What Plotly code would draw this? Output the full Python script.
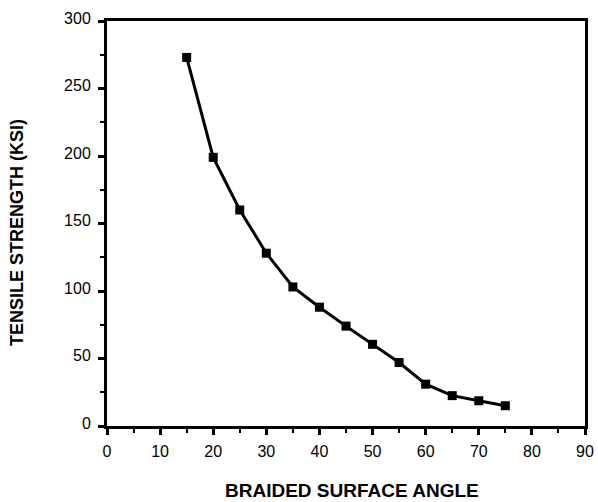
import plotly.graph_objects as go

angle = [15, 20, 25, 30, 35, 40, 45, 50, 55, 60, 65, 70, 75]
strength = [273, 199, 160, 128, 103, 88, 74, 60.5, 47, 31, 22.5, 18.7, 15]

x_ticks = [0, 10, 20, 30, 40, 50, 60, 70, 80, 90]
y_ticks = [0, 50, 100, 150, 200, 250, 300]

x_title = "BRAIDED SURFACE ANGLE"
y_title = "TENSILE STRENGTH (KSI)"

fig = go.Figure()
fig.add_trace(go.Scatter(
    x=angle, y=strength, mode="lines+markers",
    line=dict(color="black", width=3),
    marker=dict(symbol="square", size=9, color="black"),
    showlegend=False, cliponaxis=False,
))

FONT = "Liberation Sans, Arial, Helvetica, sans-serif"
tickfont = dict(family=FONT, size=16, color="black")

fig.update_xaxes(
    range=[0, 90], tickvals=x_ticks, ticktext=[str(v) for v in x_ticks],
    showline=True, linecolor="black", linewidth=3, mirror=True,
    ticks="outside", ticklen=6, tickwidth=3, tickcolor="black",
    minor=dict(ticks="outside", dtick=5, tick0=0, ticklen=4, tickwidth=2, tickcolor="black"),
    showgrid=False, zeroline=False, tickfont=tickfont,
    ticklabelstandoff=3, automargin=False,
)
fig.update_yaxes(
    range=[0, 300], tickvals=y_ticks, ticktext=[str(v) for v in y_ticks],
    showline=True, linecolor="black", linewidth=3, mirror=True,
    ticks="outside", ticklen=6, tickwidth=3, tickcolor="black",
    minor=dict(ticks="outside", dtick=25, tick0=0, ticklen=4, tickwidth=2, tickcolor="black"),
    showgrid=False, zeroline=False, tickfont=tickfont,
    ticklabelstandoff=4, ticklabelshift=-3, automargin=False,
)

plot_l, plot_r, plot_t, plot_b = 107, 585, 21, 426
fig.update_layout(
    width=598, height=502,
    margin=dict(l=plot_l, r=598 - plot_r, t=plot_t, b=502 - plot_b, autoexpand=False),
    paper_bgcolor="white", plot_bgcolor="white",
    annotations=[
        dict(text=x_title, xref="paper", yref="paper",
             x=(352 - plot_l) / (plot_r - plot_l), y=0, yshift=-64,
             xanchor="center", yanchor="middle", showarrow=False,
             font=dict(family=FONT, size=19, color="black", weight="bold")),
        dict(text=y_title, xref="paper", yref="paper",
             x=0, xshift=-90, y=(plot_b - 233) / (plot_b - plot_t),
             xanchor="center", yanchor="middle", textangle=-90, showarrow=False,
             font=dict(family=FONT, size=18, color="black", weight="bold")),
    ],
)

fig.write_html(
    "out.html",
    config={"displayModeBar": False},
    post_script="document.body.style.margin='0';document.body.style.overflow='hidden';",
)
